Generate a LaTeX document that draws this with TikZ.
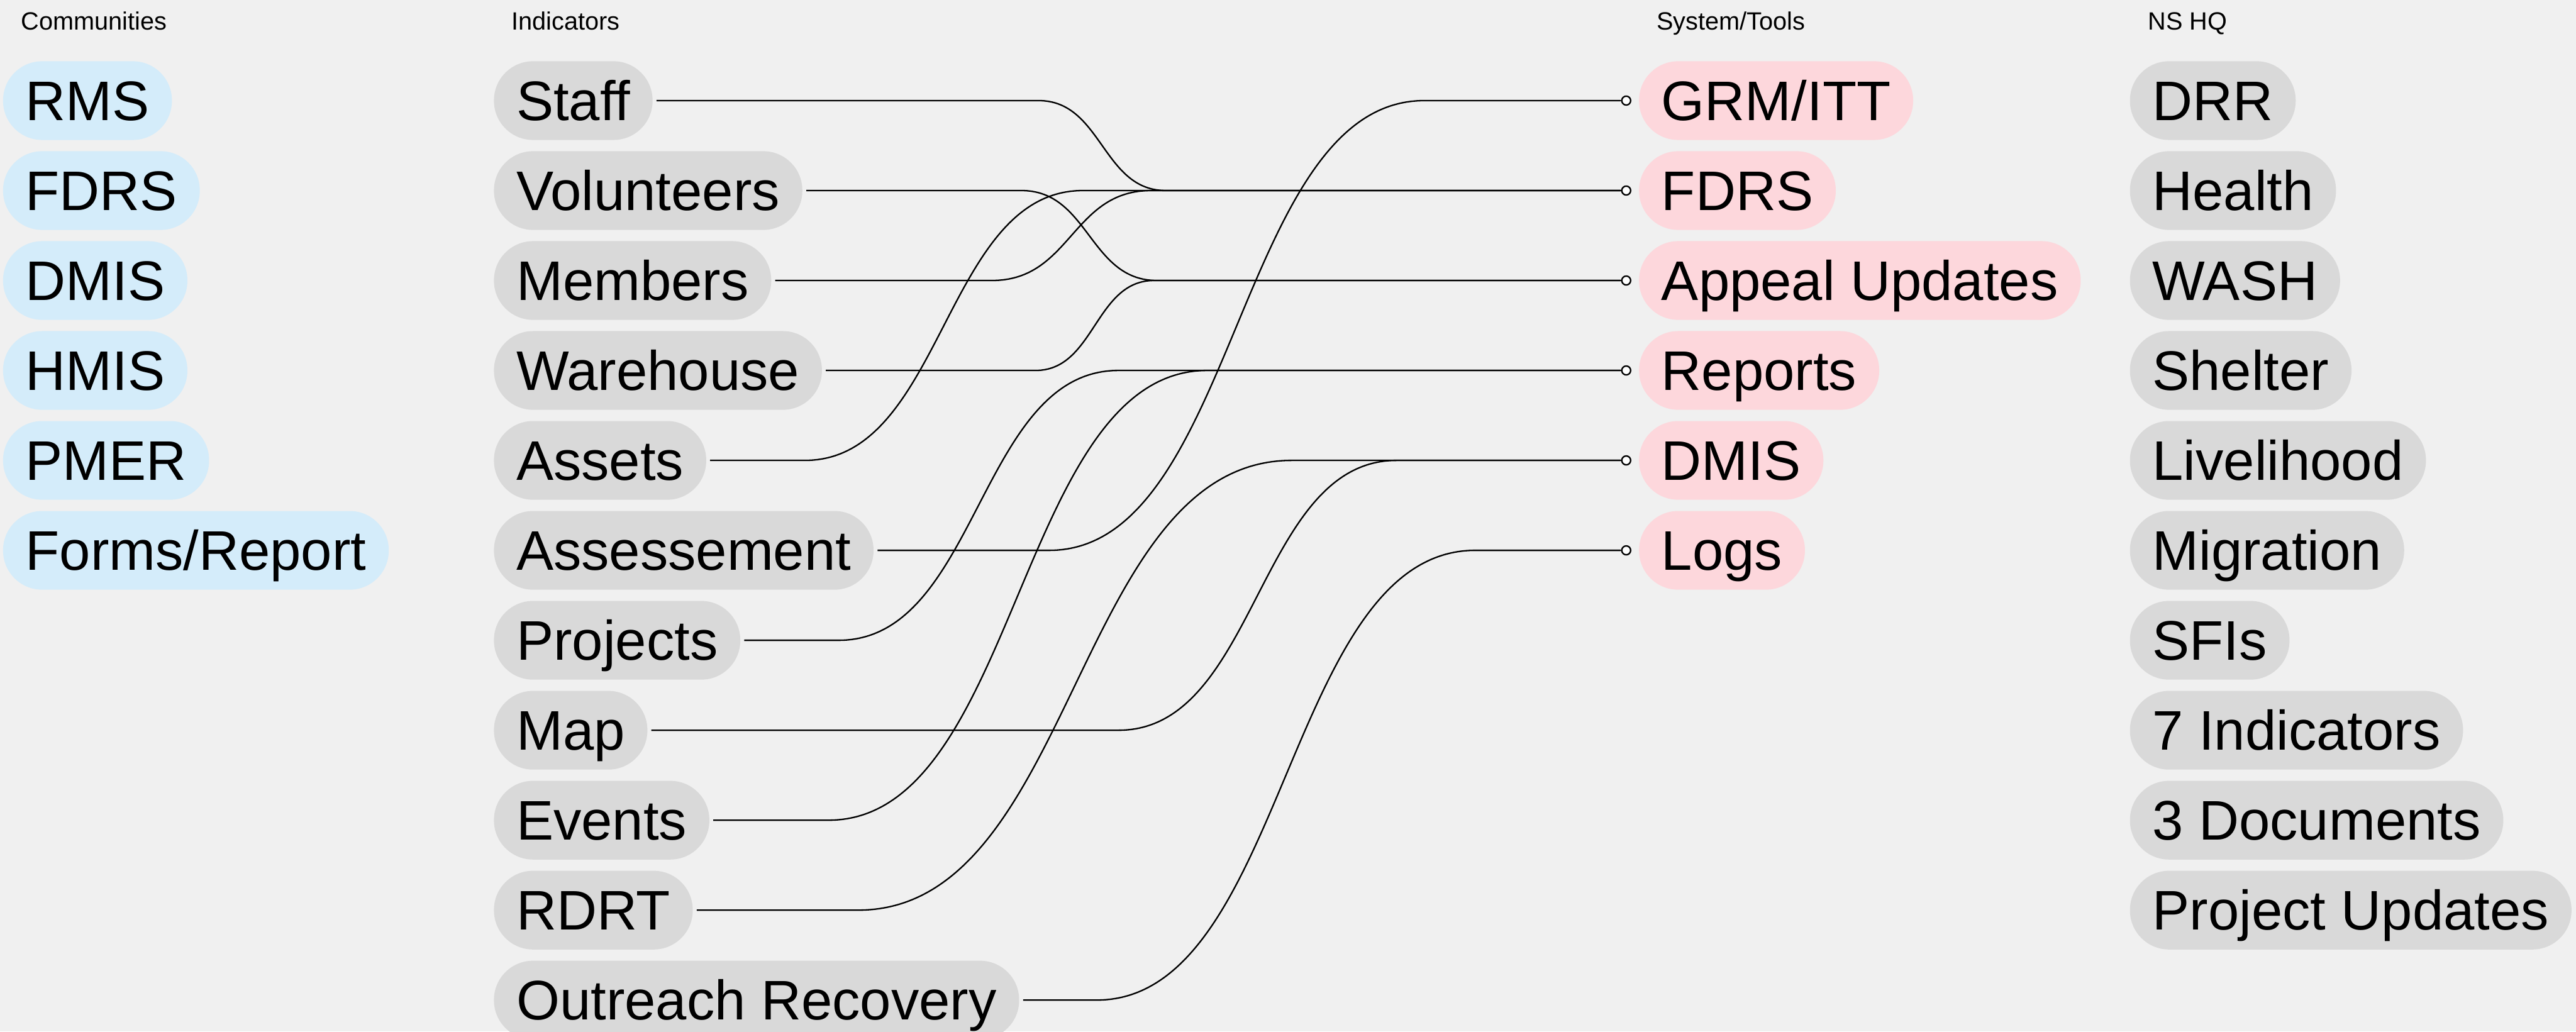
\documentclass[tikz,border=0pt]{standalone}
\usepackage{fontspec}
\setmainfont{Liberation Sans}
\definecolor{bgcol}{HTML}{F0F0F0}
\definecolor{commblue}{HTML}{D4ECFA}
\definecolor{indgray}{HTML}{D9D9D9}
\definecolor{syspink}{HTML}{FDD7DC}
\tikzset{
  pill/.style={rounded corners=0.66cm, minimum height=1.33cm, inner xsep=0.38cm,
    inner ysep=0pt, text height=0.67cm, text depth=0pt, anchor=west,
    font=\fontsize{26.8pt}{30pt}\selectfont},
  comm/.style={pill, fill=commblue},
  ind/.style={pill, fill=indgray},
  sys/.style={pill, fill=syspink},
  hq/.style={pill, fill=indgray},
  head/.style={anchor=base west, inner sep=0pt, font=\fontsize{12pt}{14pt}\selectfont},
  port/.style={circle, draw, fill=white, line width=0.7pt, inner sep=0pt, minimum size=0.15cm},
  link/.style={line width=0.7pt}
}
\begin{document}
\begin{tikzpicture}
      \fill[bgcol] (0,0) rectangle (43.53,-17.43);
      \useasboundingbox (0,0) rectangle (43.53,-17.43);
      % column titles
      \path
        (0.35,-0.50) node[head] (hc){Communities}
        (8.64,-0.50) node[head] (hi){Indicators}
        (27.99,-0.50) node[head] (hs){System/Tools}
        (36.29,-0.50) node[head] (hh){NS HQ};
      % communities
      \path
        (0.045,-1.70) node[comm] (c0){RMS}
        (0.045,-3.22) node[comm] (c1){FDRS}
        (0.045,-4.74) node[comm] (c2){DMIS}
        (0.045,-6.26) node[comm] (c3){HMIS}
        (0.045,-7.78) node[comm] (c4){PMER}
        (0.045,-9.30) node[comm] (c5){Forms/Report};
      % indicators
      \path
        (8.34,-1.70) node[ind] (i0){Staff}
        (8.34,-3.22) node[ind] (i1){Volunteers}
        (8.34,-4.74) node[ind] (i2){Members}
        (8.34,-6.26) node[ind] (i3){Warehouse}
        (8.34,-7.78) node[ind] (i4){Assets}
        (8.34,-9.30) node[ind] (i5){Assessement}
        (8.34,-10.82) node[ind] (i6){Projects}
        (8.34,-12.34) node[ind] (i7){Map}
        (8.34,-13.86) node[ind] (i8){Events}
        (8.34,-15.38) node[ind] (i9){RDRT}
        (8.34,-16.90) node[ind] (i10){Outreach Recovery};
      % system / tools
      \path
        (27.69,-1.70) node[sys] (s0){GRM/ITT}
        (27.69,-3.22) node[sys] (s1){FDRS}
        (27.69,-4.74) node[sys] (s2){Appeal Updates}
        (27.69,-6.26) node[sys] (s3){Reports}
        (27.69,-7.78) node[sys] (s4){DMIS}
        (27.69,-9.30) node[sys] (s5){Logs};
      \path
        (27.48,-1.70) node[port] (p0){}
        (27.48,-3.22) node[port] (p1){}
        (27.48,-4.74) node[port] (p2){}
        (27.48,-6.26) node[port] (p3){}
        (27.48,-7.78) node[port] (p4){}
        (27.48,-9.30) node[port] (p5){};
      % ns hq
      \path
        (35.985,-1.70) node[hq] (h0){DRR}
        (35.985,-3.22) node[hq] (h1){Health}
        (35.985,-4.74) node[hq] (h2){WASH}
        (35.985,-6.26) node[hq] (h3){Shelter}
        (35.985,-7.78) node[hq] (h4){Livelihood}
        (35.985,-9.30) node[hq] (h5){Migration}
        (35.985,-10.82) node[hq] (h6){SFIs}
        (35.985,-12.34) node[hq] (h7){7 Indicators}
        (35.985,-13.86) node[hq] (h8){3 Documents}
        (35.985,-15.38) node[hq] (h9){Project Updates};
      \begin{scope}[link]
        \draw ([xshift=0.06cm]i0.east) -- (17.55,0 |- i0) .. controls +(1.075,0) and +(-1.075,0) .. (19.70,0 |- p1) -- (p1);
        \draw ([xshift=0.06cm]i1.east) -- (17.26,0 |- i1) .. controls +(1.145,0) and +(-1.145,0) .. (19.55,0 |- p2) -- (p2);
        \draw ([xshift=0.06cm]i2.east) -- (16.76,0 |- i2) .. controls +(1.345,0) and +(-1.345,0) .. (19.45,0 |- p1) -- (p1);
        \draw ([xshift=0.06cm]i3.east) -- (17.50,0 |- i3) .. controls +(1.00,0) and +(-1.00,0) .. (19.50,0 |- p2) -- (p2);
        \draw ([xshift=0.06cm]i4.east) -- (13.60,0 |- i4) .. controls +(2.35,0) and +(-2.35,0) .. (18.30,0 |- p1) -- (p1);
        \draw ([xshift=0.06cm]i5.east) -- (17.73,0 |- i5) .. controls +(3.17,0) and +(-3.17,0) .. (24.07,0 |- p0) -- (p0);
        \draw ([xshift=0.06cm]i6.east) -- (14.17,0 |- i6) .. controls +(2.365,0) and +(-2.365,0) .. (18.90,0 |- p3) -- (p3);
        \draw ([xshift=0.06cm]i7.east) -- (18.90,0 |- i7) .. controls +(2.35,0) and +(-2.35,0) .. (23.60,0 |- p4) -- (p4);
        \draw ([xshift=0.06cm]i8.east) -- (14.00,0 |- i8) .. controls +(3.20,0) and +(-3.20,0) .. (20.40,0 |- p3) -- (p3);
        \draw ([xshift=0.06cm]i9.east) -- (14.50,0 |- i9) .. controls +(3.665,0) and +(-3.665,0) .. (21.83,0 |- p4) -- (p4);
        \draw ([xshift=0.06cm]i10.east) -- (18.53,0 |- i10) .. controls +(3.20,0) and +(-3.20,0) .. (24.93,0 |- p5) -- (p5);
      \end{scope}
    \end{tikzpicture}
\end{document}
